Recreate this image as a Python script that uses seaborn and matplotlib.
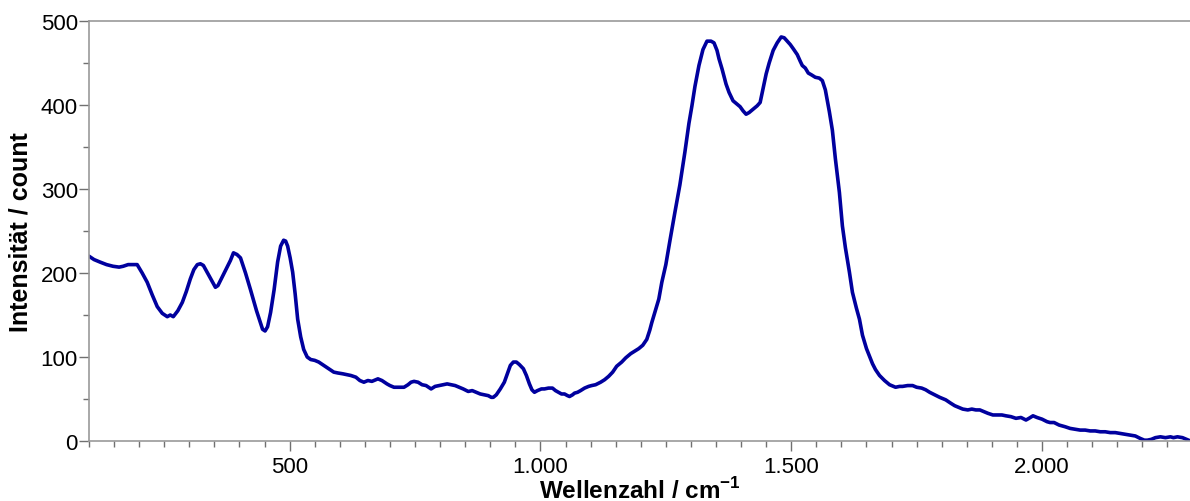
import matplotlib
matplotlib.use("Agg")
import matplotlib.pyplot as plt
from matplotlib.ticker import MultipleLocator, FixedLocator
import seaborn as sns
import pandas as pd

# Raman spectrum: wavenumber (cm^-1) and intensity (counts)
wavenumber = [
    100, 110, 122, 135, 148, 160, 168, 178, 188, 196, 206, 216, 226, 236, 246, 256, 262, 268,
    277, 286, 294, 302, 309, 316, 322, 328, 340, 352, 357, 362, 372, 382, 388, 395, 402, 412,
    422, 434, 446, 451, 456, 462, 469, 476, 482, 488, 492, 496, 501, 506, 511, 516, 522, 528,
    535, 542, 550, 558, 568, 578, 588, 596, 606, 614, 622, 632, 640, 648, 656, 664, 676, 684,
    694, 700, 708, 718, 728, 736, 742, 748, 756, 764, 772, 782, 790, 798, 806, 814, 822, 830,
    838, 846, 856, 864, 872, 880, 888, 896, 902, 906, 912, 920, 928, 934, 940, 946, 952, 958,
    966, 972, 978, 983, 988, 994, 1002, 1008, 1016, 1024, 1030, 1036, 1042, 1048, 1054, 1058,
    1064, 1068, 1074, 1080, 1088, 1096, 1102, 1110, 1120, 1128, 1136, 1144, 1152, 1162, 1170,
    1180, 1188, 1196, 1204, 1212, 1218, 1222, 1230, 1236, 1242, 1250, 1258, 1268, 1278, 1288,
    1296, 1302, 1308, 1316, 1324, 1332, 1340, 1346, 1352, 1356, 1362, 1370, 1376, 1384, 1392,
    1398, 1404, 1410, 1416, 1424, 1432, 1438, 1444, 1450, 1456, 1464, 1472, 1480, 1486, 1492,
    1498, 1504, 1512, 1518, 1522, 1528, 1534, 1540, 1548, 1556, 1562, 1568, 1576, 1582, 1588,
    1596, 1602, 1608, 1616, 1622, 1630, 1636, 1642, 1650, 1656, 1662, 1668, 1676, 1686, 1696,
    1708, 1716, 1722, 1732, 1742, 1750, 1760, 1768, 1776, 1786, 1796, 1808, 1818, 1826, 1834,
    1842, 1852, 1860, 1868, 1876, 1884, 1892, 1902, 1912, 1920, 1928, 1938, 1948, 1958, 1968,
    1974, 1982, 1990, 2000, 2010, 2016, 2024, 2034, 2046, 2056, 2066, 2076, 2086, 2096, 2106,
    2116, 2126, 2136, 2146, 2156, 2166, 2176, 2186, 2196, 2204, 2210, 2218, 2226, 2236, 2246,
    2256, 2262, 2270, 2280, 2288, 2296,
]
intensity = [
    220, 216, 213, 210, 208, 207, 208, 210, 210, 210, 200, 189, 174, 160, 152, 148, 150, 148,
    155, 165, 178, 193, 204, 210, 211, 209, 196, 183, 185, 191, 203, 215, 224, 222, 218, 200,
    180, 155, 133, 131, 136, 153, 180, 213, 232, 239, 238, 232, 218, 201, 175, 145, 124, 109,
    100, 97, 96, 94, 90, 86, 82, 81, 80, 79, 78, 76, 72, 70, 72, 71, 74, 72,
    68, 66, 64, 64, 64, 67, 70, 71, 70, 67, 66, 62, 65, 66, 67, 68, 67, 66,
    64, 62, 59, 60, 58, 56, 55, 54, 52, 52, 55, 62, 70, 80, 90, 94, 94, 91,
    86, 78, 68, 61, 58, 60, 62, 62, 63, 63, 60, 58, 56, 56, 54, 53,
    55, 57, 58, 60, 63, 65, 66, 67, 70, 73, 77, 82, 89, 94, 99,
    104, 107, 110, 114, 121, 132, 141, 157, 169, 189, 210, 238, 272, 305, 344,
    378, 399, 422, 447, 466, 476, 476, 474, 465, 455, 443, 425, 415, 405, 401,
    398, 393, 389, 391, 395, 399, 403, 420, 437, 450, 465, 474, 481, 480, 476,
    472, 467, 460, 452, 447, 444, 438, 436, 433, 432, 429, 418, 392, 370, 336,
    296, 256, 230, 201, 177, 158, 145, 126, 110, 101, 92, 85, 78, 72, 67,
    64, 65, 65, 66, 66, 64, 63, 61, 58, 55, 52, 49, 45, 42, 40,
    38, 37, 38, 37, 37, 35, 33, 31, 31, 31, 30, 29, 27, 28, 25,
    27, 30, 28, 26, 23, 22, 22, 19, 17, 15, 14, 13, 13, 12, 12,
    11, 11, 10, 10, 9, 8, 7, 6, 3, 1, 1, 2, 4, 5, 4,
    5, 4, 5, 4, 2, 0,
]

x_ticks = [500, 1000, 1500, 2000]
x_tick_labels = ["500", "1.000", "1.500", "2.000"]
y_ticks = [0, 100, 200, 300, 400, 500]

df = pd.DataFrame({"Wellenzahl": wavenumber, "Intensitaet": intensity})

sns.set_style("ticks")
plt.rcParams["font.family"] = ["Liberation Sans", "DejaVu Sans"]
plt.rcParams["mathtext.fontset"] = "custom"
plt.rcParams["mathtext.bf"] = "Liberation Sans:bold"
plt.rcParams["mathtext.rm"] = "Liberation Sans:bold"

fig = plt.figure(figsize=(11.9, 5.02), dpi=100)
ax = fig.add_axes([0.0748, 0.1195, 0.9252, 0.8367])

sns.lineplot(data=df, x="Wellenzahl", y="Intensitaet", ax=ax,
             color="#00009E", linewidth=2.6, estimator=None, sort=False)

ax.set_xlim(100, 2295)
ax.set_ylim(0, 500)

ax.xaxis.set_major_locator(FixedLocator(x_ticks))
ax.set_xticklabels(x_tick_labels)
ax.xaxis.set_minor_locator(MultipleLocator(50))
ax.yaxis.set_major_locator(FixedLocator(y_ticks))
ax.yaxis.set_minor_locator(MultipleLocator(50))

spine_grey = "#9a9a9a"
for side in ["left", "top", "bottom"]:
    ax.spines[side].set_color(spine_grey)
    ax.spines[side].set_linewidth(1.2)
ax.spines["right"].set_visible(False)

ax.tick_params(axis="both", which="major", direction="out", length=7, width=1,
               color="#707070", labelsize=16, labelcolor="black", pad=1)
ax.tick_params(axis="both", which="minor", direction="out", length=4, width=1,
               color="#707070")
ax.tick_params(axis="x", which="major", pad=4)

ax.set_xlabel(r"Wellenzahl / cm$^{\mathbf{-1}}$", fontsize=17.5, fontweight="bold",
              labelpad=0, color="black")
ax.set_ylabel("Intensität / count", fontsize=18, fontweight="bold", labelpad=6,
              color="black")

fig.savefig("out.png", dpi=100)
